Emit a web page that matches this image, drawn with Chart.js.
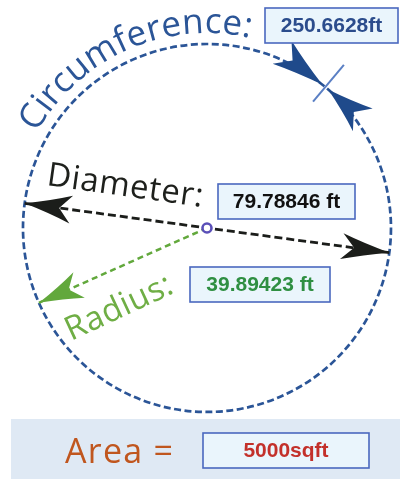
<!DOCTYPE html>
<html><head><meta charset="utf-8">
<script src="https://cdn.jsdelivr.net/npm/chart.js@4.4.1/dist/chart.umd.min.js"></script>
<style>html,body{margin:0;padding:0;background:#fff;} #wrap{width:400px;height:481px;position:relative;}</style>
</head><body><div id="wrap"><canvas id="c"></canvas></div>
<script>
// ---- data ----
const measureLabels = ['Circumference:', 'Diameter:', 'Radius:', 'Area ='];
const measureValues = ['250.6628ft', '79.78846 ft', '39.89423 ft', '5000sqft'];
const radiusFt = [39.89423];
const diameterFt = [79.78846];
const circumferenceFt = [250.6628];
const areaSqft = [5000];
const diameterAngleDeg = [-7.7];
const radiusAngleDeg = [204];
const circMarkAngleDeg = [50];

const r = radiusFt[0];
const dA = diameterAngleDeg[0] * Math.PI / 180;
const rA = radiusAngleDeg[0] * Math.PI / 180;
const halfD = diameterFt[0] / 2;

const diameterPts = [
  {x: -halfD * Math.cos(dA), y: -halfD * Math.sin(dA)},
  {x:  halfD * Math.cos(dA), y:  halfD * Math.sin(dA)}
];
const radiusPts = [{x: 0, y: 0}, {x: r * Math.cos(rA), y: r * Math.sin(rA)}];
const centerPts = [{x: 0, y: 0}];

function arrowHead(ctx, tx, ty, ux, uy, L, W, color) {
  const px = -uy, py = ux;
  const bx = tx - ux * L, by = ty - uy * L;
  const nx = tx - ux * L * 0.74, ny = ty - uy * L * 0.74;
  ctx.save();
  ctx.fillStyle = color;
  ctx.beginPath();
  ctx.moveTo(tx, ty);
  ctx.quadraticCurveTo(tx - ux * L * 0.55 + px * W * 0.45, ty - uy * L * 0.55 + py * W * 0.45, bx + px * W, by + py * W);
  ctx.lineTo(nx, ny);
  ctx.lineTo(bx - px * W, by - py * W);
  ctx.quadraticCurveTo(tx - ux * L * 0.55 - px * W * 0.45, ty - uy * L * 0.55 - py * W * 0.45, tx, ty);
  ctx.closePath();
  ctx.fill();
  ctx.restore();
}
function unit(ax, ay, bx, by) { const dx = bx - ax, dy = by - ay, l = Math.hypot(dx, dy); return [dx / l, dy / l]; }

function arcText(ctx, text, cx, cy, rad, midDeg, totalW, font, color) {
  ctx.save();
  ctx.font = font; ctx.fillStyle = color; ctx.textAlign = 'left'; ctx.textBaseline = 'alphabetic';
  const chars = [...text];
  const ws = chars.map(c => ctx.measureText(c).width);
  const nat = ws.reduce((a, b) => a + b, 0);
  const extra = (totalW - nat) / (chars.length - 1);
  let a = midDeg * Math.PI / 180 - totalW / (2 * rad);
  chars.forEach((c, i) => {
    const ac = a + (ws[i] / 2) / rad;
    ctx.save();
    ctx.translate(cx + rad * Math.cos(ac), cy + rad * Math.sin(ac));
    ctx.rotate(ac + Math.PI / 2);
    ctx.fillText(c, -ws[i] / 2, 0);
    ctx.restore();
    a += (ws[i] + extra) / rad;
  });
  ctx.restore();
}
function lineText(ctx, text, x, y, deg, totalW, font, color) {
  ctx.save();
  ctx.font = font; ctx.fillStyle = color; ctx.textAlign = 'left'; ctx.textBaseline = 'alphabetic';
  const chars = [...text];
  const ws = chars.map(c => ctx.measureText(c).width);
  const nat = ws.reduce((a, b) => a + b, 0);
  const extra = (totalW - nat) / (chars.length - 1);
  ctx.translate(x, y); ctx.rotate(deg * Math.PI / 180);
  let p = 0;
  chars.forEach((c, i) => { ctx.fillText(c, p, 0); p += ws[i] + extra; });
  ctx.restore();
}
function valueBox(ctx, x, y, w, h, text, color) {
  ctx.save();
  ctx.fillStyle = '#eaf5fc';
  ctx.fillRect(x, y, w, h);
  ctx.strokeStyle = '#4a68bf'; ctx.lineWidth = 1.6;
  ctx.strokeRect(x, y, w, h);
  ctx.font = 'bold 21px "Liberation Sans", Arial, sans-serif';
  ctx.fillStyle = color; ctx.textAlign = 'center'; ctx.textBaseline = 'middle';
  ctx.fillText(text, x + w / 2, y + h / 2 + 1);
  ctx.restore();
}

const diagram = {
  id: 'diagram',
  beforeDraw(chart) {
    const ctx = chart.ctx;
    ctx.save();
    ctx.fillStyle = '#dfe9f4';
    ctx.fillRect(11, 419, 389, 60);
    ctx.restore();
  },
  beforeDatasetsDraw(chart) {
    const ctx = chart.ctx, xs = chart.scales.x, ys = chart.scales.y;
    const cx = xs.getPixelForValue(0), cy = ys.getPixelForValue(0);
    const R = xs.getPixelForValue(r) - cx;
    ctx.save();
    ctx.strokeStyle = '#2b5597'; ctx.lineWidth = 2.7; ctx.setLineDash([7, 3.5]);
    ctx.beginPath(); ctx.arc(cx, cy, R, 0, Math.PI * 2); ctx.stroke();
    ctx.restore();
  },
  afterDatasetsDraw(chart) {
    const ctx = chart.ctx, xs = chart.scales.x, ys = chart.scales.y;
    const cx = xs.getPixelForValue(0), cy = ys.getPixelForValue(0);
    const R = xs.getPixelForValue(r) - cx;

    // diameter arrows
    const dm = chart.getDatasetMeta(1).data;
    let u = unit(dm[1].x, dm[1].y, dm[0].x, dm[0].y);
    arrowHead(ctx, dm[0].x, dm[0].y, u[0], u[1], 47, 14, '#1b1d1a');
    u = unit(dm[0].x, dm[0].y, dm[1].x, dm[1].y);
    arrowHead(ctx, dm[1].x, dm[1].y, u[0], u[1], 48, 13, '#1b1d1a');
    // radius arrow
    const rm = chart.getDatasetMeta(2).data;
    u = unit(rm[0].x, rm[0].y, rm[1].x, rm[1].y);
    arrowHead(ctx, rm[1].x, rm[1].y, u[0], u[1], 44, 14, '#62a83c');

    // circumference mark
    const phi = circMarkAngleDeg[0] * Math.PI / 180;
    const rx = Math.cos(phi), ry = -Math.sin(phi);
    ctx.save();
    ctx.strokeStyle = '#5a7fc4'; ctx.lineWidth = 2;
    ctx.beginPath();
    ctx.moveTo(cx + rx * (R - 19), cy + ry * (R - 19));
    ctx.lineTo(cx + rx * (R + 29), cy + ry * (R + 29));
    ctx.stroke();
    ctx.restore();
    const p1 = phi + 1.1 * Math.PI / 180, p2 = phi - 1.2 * Math.PI / 180;
    arrowHead(ctx, cx + R * Math.cos(p1), cy - R * Math.sin(p1), Math.sin(p1), Math.cos(p1), 52, 15, '#1f4a8b');
    arrowHead(ctx, cx + R * Math.cos(p2), cy - R * Math.sin(p2), -Math.sin(p2), -Math.cos(p2), 46, 15, '#1f4a8b');

    // labels
    arcText(ctx, measureLabels[0], cx, cy, 195, -114, 250, '35px "Open Sans", sans-serif', '#2b5597');
    lineText(ctx, measureLabels[1], 46, 185, 8, 157, '33px "Open Sans", sans-serif', '#1e201c');
    lineText(ctx, measureLabels[2], 71, 341, -25, 115, '33px "Open Sans", sans-serif', '#6fae45');
    lineText(ctx, measureLabels[3], 65, 463, 0, 108, '34px "Open Sans", sans-serif', '#c0561e');

    // value boxes
    valueBox(ctx, 265, 8, 133, 35, measureValues[0], '#2b4c8c');
    valueBox(ctx, 218, 184, 137, 35, measureValues[1], '#111111');
    valueBox(ctx, 190, 267, 140, 35, measureValues[2], '#2f8f42');
    valueBox(ctx, 203, 433, 166, 35, measureValues[3], '#c3302a');
  }
};

new Chart(document.getElementById('c'), {
  type: 'scatter',
  data: {
    datasets: [
      {label: 'Center', data: centerPts, pointRadius: 4.5, pointBorderWidth: 2.6, pointBorderColor: '#5a4fb8', pointBackgroundColor: '#ffffff', showLine: false},
      {label: 'Diameter', data: diameterPts, showLine: true, borderColor: '#1b1d1a', borderWidth: 2.8, borderDash: [8, 4], pointRadius: 0},
      {label: 'Radius', data: radiusPts, showLine: true, borderColor: '#62a83c', borderWidth: 2.5, borderDash: [6, 4], pointRadius: 0}
    ]
  },
  options: {
    responsive: true, maintainAspectRatio: false, animation: false,
    layout: {padding: 0, autoPadding: false},
    plugins: {legend: {display: false}, tooltip: {enabled: false}},
    scales: {
      x: {type: 'linear', min: -44.88, max: 41.85, display: false},
      y: {type: 'linear', min: -54.86, max: 49.43, display: false}
    }
  },
  plugins: [diagram]
});
</script></body></html>
